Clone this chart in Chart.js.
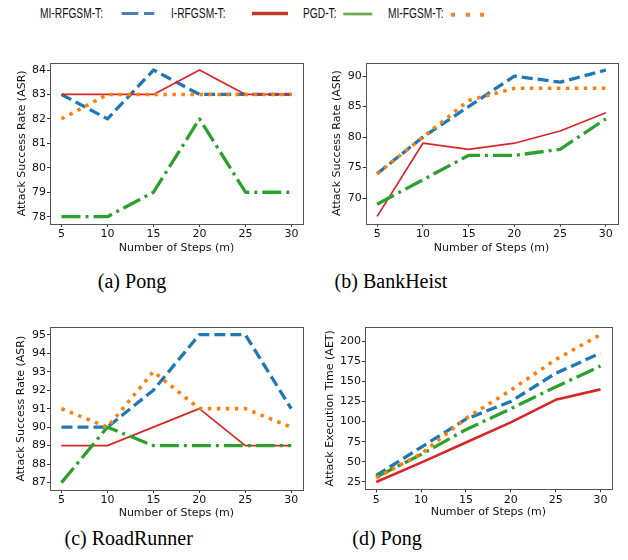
<!DOCTYPE html>
<html>
<head>
<meta charset="utf-8">
<script src="https://cdn.jsdelivr.net/npm/chart.js@4.4.0/dist/chart.umd.min.js"></script>
<style>
  body { margin: 0; background: #fff; }
  #page { position: relative; width: 628px; height: 560px; overflow: hidden; }
  canvas { position: absolute; }
  .cap { position: absolute; font-family: "Liberation Serif", serif; font-size: 20px; color: #000;
         transform: translate(-50%, -50%); white-space: nowrap; }
  .lg { position: absolute; top: 13.3px; font-family: "Liberation Sans", Arial, sans-serif; font-size: 14px;
        color: #111; white-space: nowrap; transform-origin: left center; transform: translateY(-50%) scaleX(0.73); }
  #lgsvg { position: absolute; left: 0; top: 0; }
</style>
</head>
<body>
<div id="page">
  <span class="lg" style="left:40px">MI-RFGSM-T:</span>
  <span class="lg" style="left:171px">I-RFGSM-T:</span>
  <span class="lg" style="left:303px">PGD-T:</span>
  <span class="lg" style="left:388px">MI-FGSM-T:</span>
  <svg id="lgsvg" width="628" height="30">
    <line x1="121.7" y1="13.5" x2="138.3" y2="13.5" stroke="#4a7ebb" stroke-width="3"/>
    <line x1="144" y1="13.5" x2="154.3" y2="13.5" stroke="#4a7ebb" stroke-width="3"/>
    <line x1="252" y1="13.5" x2="288" y2="13.5" stroke="#c0392b" stroke-width="3.5"/>
    <line x1="343.3" y1="14" x2="372.3" y2="14" stroke="#6aa84f" stroke-width="2.7"/>
    <rect x="450.7" y="12.7" width="4.3" height="4" fill="#f0883a"/>
    <rect x="465.7" y="12.7" width="4.3" height="4" fill="#f0883a"/>
    <rect x="480" y="12.7" width="4" height="4" fill="#f0883a"/>
  </svg>

  <canvas id="c1" width="314" height="215" style="left:0;top:40px"></canvas>
  <canvas id="c2" width="314" height="215" style="left:314px;top:40px"></canvas>
  <canvas id="c3" width="314" height="220" style="left:0;top:300px"></canvas>
  <canvas id="c4" width="314" height="220" style="left:314px;top:300px"></canvas>

  <div class="cap" style="left:132px;top:281px">(a) Pong</div>
  <div class="cap" style="left:391px;top:281px">(b) BankHeist</div>
  <div class="cap" style="left:128.7px;top:538px">(c) RoadRunner</div>
  <div class="cap" style="left:387px;top:538px">(d) Pong</div>
</div>
<script>
const steps = [5, 10, 15, 20, 25, 30];

// (a) Pong - ASR
const pongMiRfgsm = [83, 82, 84, 83, 83, 83];
const pongIRfgsm = [83, 83, 83, 84, 83, 83];
const pongPgd = [78, 78, 79, 82, 79, 79];
const pongMiFgsm = [82, 83, 83, 83, 83, 83];
const pongTicks = [78, 79, 80, 81, 82, 83, 84];

// (b) BankHeist - ASR
const bankMiRfgsm = [74, 80, 85, 90, 89, 91];
const bankIRfgsm = [67, 79, 78, 79, 81, 84];
const bankPgd = [69, 73, 77, 77, 78, 83];
const bankMiFgsm = [74, 80, 86, 88, 88, 88];
const bankTicks = [70, 75, 80, 85, 90];

// (c) RoadRunner - ASR
const roadMiRfgsm = [90, 90, 92, 95, 95, 91];
const roadIRfgsm = [89, 89, 90, 91, 89, 89];
const roadPgd = [87, 90, 89, 89, 89, 89];
const roadMiFgsm = [91, 90, 93, 91, 91, 90];
const roadTicks = [87, 88, 89, 90, 91, 92, 93, 94, 95];

// (d) Pong - AET
const timeMiRfgsm = [33, 68, 103, 125, 160, 185];
const timeIRfgsm = [25, 49, 74, 99, 127, 140];
const timePgd = [31, 59, 90, 116, 143, 169];
const timeMiFgsm = [30, 60, 104, 139, 177, 208];
const timeTicks = [25, 50, 75, 100, 125, 150, 175, 200];

const font = { family: 'DejaVu Sans', size: 11 };

const frame = {
  id: 'frame',
  afterDraw(chart) {
    const { ctx, chartArea: a } = chart;
    ctx.save();
    ctx.strokeStyle = '#555';
    ctx.lineWidth = 1;
    ctx.strokeRect(Math.round(a.left) + 0.5, Math.round(a.top) + 0.5,
                   Math.round(a.right - a.left), Math.round(a.bottom - a.top));
    ctx.restore();
  }
};

function pts(vals) {
  return steps.map((s, i) => ({ x: s, y: vals[i] }));
}

function makeChart(id, box, s, yTicks, yMin, yMax, yTitle, redWidth) {
  new Chart(document.getElementById(id), {
    type: 'line',
    data: {
      datasets: [
        { data: pts(s[3]), borderColor: '#ff7f0e', borderWidth: 3.6, borderDash: [3.5, 5.5], order: 0 },
        { data: pts(s[2]), borderColor: '#2ca02c', borderWidth: 3.3, borderDash: [19, 5, 3, 5], order: 1 },
        { data: pts(s[1]), borderColor: '#d62728', borderWidth: redWidth, order: 2 },
        { data: pts(s[0]), borderColor: '#1f77b4', borderWidth: 3.3, borderDash: [11, 5], order: 3 }
      ]
    },
    options: {
      responsive: false,
      animation: false,
      layout: { padding: { left: 0, top: box.top, right: box.right, bottom: 0 } },
      elements: {
        point: { radius: 0 },
        line: { tension: 0, borderCapStyle: 'butt', borderJoinStyle: 'round', fill: false }
      },
      plugins: { legend: { display: false }, tooltip: { enabled: false } },
      scales: {
        x: {
          type: 'linear', min: 3.75, max: 31.25,
          afterFit: sc => { sc.height = box.xh; },
          afterBuildTicks: sc => { sc.ticks = steps.map(v => ({ value: v })); },
          grid: { drawOnChartArea: false, tickLength: 3, color: '#333' },
          border: { display: false },
          ticks: { font, color: '#111', padding: 1, maxRotation: 0 },
          title: { display: true, text: 'Number of Steps (m)', font, color: '#111', padding: { top: 0, bottom: box.xt } }
        },
        y: {
          type: 'linear', min: yMin, max: yMax,
          afterFit: sc => { sc.width = box.yw; },
          afterBuildTicks: sc => { sc.ticks = yTicks.map(v => ({ value: v })); },
          grid: { drawOnChartArea: false, tickLength: 3, color: '#333' },
          border: { display: false },
          ticks: { font, color: '#111', padding: 1 },
          title: { display: true, text: yTitle, font, color: '#111', padding: { top: box.yt, bottom: 0 } }
        }
      }
    },
    plugins: [frame]
  });
}

makeChart('c1', { top: 22.7, right: 11, xh: 31, xt: 0.7, yw: 50, yt: 15.1 },
  [pongMiRfgsm, pongIRfgsm, pongPgd, pongMiFgsm], pongTicks, 77.7, 84.3, 'Attack Success Rate (ASR)', 1.7);
makeChart('c2', { top: 22.7, right: 10.7, xh: 31.3, xt: 0.7, yw: 51.7, yt: 16.7 },
  [bankMiRfgsm, bankIRfgsm, bankPgd, bankMiFgsm], bankTicks, 65.8, 92.2, 'Attack Success Rate (ASR)', 1.7);
makeChart('c3', { top: 27.3, right: 11.3, xh: 30, xt: 0.1, yw: 50, yt: 14.4 },
  [roadMiRfgsm, roadIRfgsm, roadPgd, roadMiFgsm], roadTicks, 86.6, 95.4, 'Attack Success Rate (ASR)', 1.7);
makeChart('c4', { top: 27.3, right: 16.3, xh: 30.7, xt: 1.1, yw: 51, yt: 9.1 },
  [timeMiRfgsm, timeIRfgsm, timePgd, timeMiFgsm], timeTicks, 15.85, 217.15, 'Attack Execution Time (AET)', 2.6);
</script>
</body>
</html>
